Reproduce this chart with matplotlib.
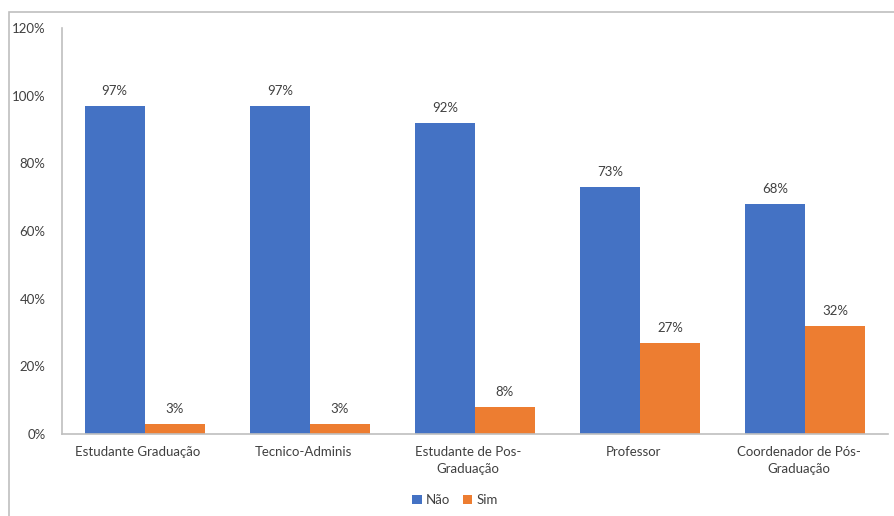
import matplotlib
matplotlib.use('Agg')
import matplotlib.pyplot as plt
from matplotlib.patches import Rectangle
import numpy as np

# categories and percentages
categories = ['Estudante Graduação', 'Tecnico-Adminis', 'Estudante de Pos-\nGraduação',
              'Professor', 'Coordenador de Pós-\nGraduação']
nao = [97, 97, 92, 73, 68]
sim = [3, 3, 8, 27, 32]

plt.rcParams['font.family'] = ['Lato', 'DejaVu Sans']
text_color = '#404040'
blue = '#4472C4'
orange = '#ED7D31'

fig = plt.figure(figsize=(8.94, 5.16), dpi=100)
ax = fig.add_axes([0.0694, 0.159, 0.9236, 0.787])

# outer chart border (cropped on the right and bottom in the original)
fig.patches.append(Rectangle((9 / 894, -0.05), 1.2, 1 - 12 / 516 + 0.05,
                             transform=fig.transFigure, fill=False,
                             edgecolor='#BFBFBF', linewidth=1.2))

x = np.arange(len(categories))
w = 0.363
b1 = ax.bar(x - w / 2, nao, w, color=blue, label='Não')
b2 = ax.bar(x + w / 2, sim, w, color=orange, label='Sim')

for bars, vals in ((b1, nao), (b2, sim)):
    for r, v in zip(bars, vals):
        ax.text(r.get_x() + r.get_width() / 2, v + 2.5, f'{v}%', ha='center',
                va='bottom', fontsize=9.5, color=text_color)

ax.set_xlim(-0.5, len(categories) - 0.5)
ax.set_ylim(0, 120)
ax.set_yticks(range(0, 121, 20))
ax.set_yticklabels([f'{t}%' for t in range(0, 121, 20)])
ax.set_xticks(x - 0.04)
ax.set_xticklabels(categories, linespacing=1.5)
ax.tick_params(axis='both', length=0, labelsize=9.5, colors=text_color)
ax.tick_params(axis='y', pad=12)
ax.tick_params(axis='x', pad=9)

for s in ('top', 'right'):
    ax.spines[s].set_visible(False)
for s in ('left', 'bottom'):
    ax.spines[s].set_color('#BFBFBF')
    ax.spines[s].set_linewidth(1.2)

leg = fig.legend(loc='center', bbox_to_anchor=(455 / 894, 1 - 500 / 516), ncol=2,
                 frameon=False, fontsize=9.5, handlelength=0.7, handleheight=0.7,
                 handletextpad=0.3, columnspacing=1.0)
for t in leg.get_texts():
    t.set_color(text_color)

fig.savefig('out.png', dpi=100)
